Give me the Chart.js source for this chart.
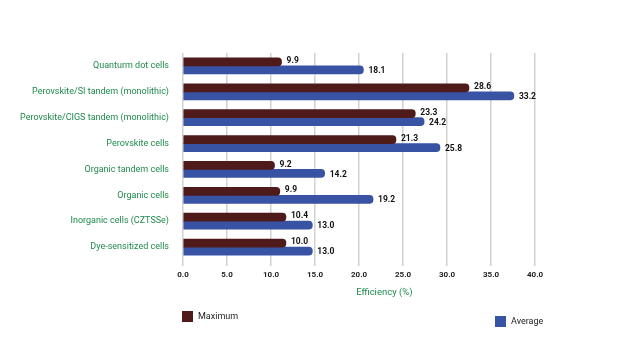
<!DOCTYPE html>
<html>
<head>
    <title>Solar Cell Efficiency</title>
    <script src="https://cdn.jsdelivr.net/npm/chart.js"></script>
    <style>
        html, body { margin: 0; padding: 0; background: #fff; }
    </style>
</head>
<body>
    <canvas id="effChart" width="640" height="361"></canvas>

    <script>
        // categories, top to bottom
        const categories = [
            "Quanturm dot cells",
            "Perovskite/SI tandem (monolithic)",
            "Perovskite/CIGS tandem (monolithic)",
            "Perovskite cells",
            "Organic tandem cells",
            "Organic cells",
            "Inorganic cells (CZTSSe)",
            "Dye-sensitized cells"
        ];

        // bar lengths as read against the x axis of the picture
        const maximumBars = [11.2, 32.5, 26.4, 24.2, 10.4, 11.0, 11.7, 11.7];
        const averageBars = [20.5, 37.6, 27.4, 29.2, 16.1, 21.6, 14.7, 14.7];

        // value labels printed next to the bars
        const maximumLabels = ["9.9", "28.6", "23.3", "21.3", "9.2", "9.9", "10.4", "10.0"];
        const averageLabels = ["18.1", "33.2", "24.2", "25.8", "14.2", "19.2", "13.0", "13.0"];

        const seriesNames = ["Maximum", "Average"];
        const green = "#1e8a4a";

        // value labels at the end of each bar
        const valueLabels = {
            id: "valueLabels",
            afterDatasetsDraw(chart) {
                const ctx = chart.ctx;
                const texts = [maximumLabels, averageLabels];
                ctx.save();
                ctx.font = "bold 8.5px Roboto";
                ctx.fillStyle = "#111";
                ctx.textBaseline = "middle";
                chart.data.datasets.forEach((ds, i) => {
                    chart.getDatasetMeta(i).data.forEach((bar, j) => {
                        ctx.fillText(texts[i][j], bar.x + 5, bar.y + (i === 0 ? -1 : 1));
                    });
                });
                ctx.restore();
            }
        };

        // axis title and the two legend keys under the plot
        const bottomText = {
            id: "bottomText",
            afterDraw(chart) {
                const ctx = chart.ctx;
                const a = chart.chartArea;
                ctx.save();
                ctx.font = "9.5px Roboto";
                ctx.fillStyle = green;
                ctx.textAlign = "center";
                ctx.textBaseline = "middle";
                ctx.fillText("Efficiency (%)", a.left + (a.right - a.left) * 0.572, a.bottom + 33);

                const keys = [
                    { x: a.left - 1, y: a.bottom + 51 },
                    { x: a.left + 312, y: a.bottom + 56 }
                ];
                ctx.textAlign = "left";
                ctx.font = "9px Roboto";
                chart.data.datasets.forEach((ds, i) => {
                    ctx.fillStyle = ds.backgroundColor;
                    ctx.fillRect(keys[i].x, keys[i].y, 11, 11);
                    ctx.fillStyle = "#222";
                    ctx.fillText(ds.label, keys[i].x + 16, keys[i].y + 6);
                });
                ctx.restore();
            }
        };

        const ctx = document.getElementById("effChart").getContext("2d");
        new Chart(ctx, {
            type: "bar",
            data: {
                labels: categories,
                datasets: [
                    {
                        label: seriesNames[0],
                        data: maximumBars,
                        backgroundColor: "#4f1a1a"
                    },
                    {
                        label: seriesNames[1],
                        data: averageBars,
                        backgroundColor: "#3953a4"
                    }
                ]
            },
            options: {
                indexAxis: "y",
                responsive: false,
                animation: false,
                layout: { padding: { top: 53, right: 105, bottom: 58, left: 0 } },
                datasets: {
                    bar: {
                        barThickness: 8,
                        borderRadius: 4,
                        borderSkipped: "start"
                    }
                },
                plugins: {
                    legend: { display: false },
                    tooltip: { enabled: false }
                },
                scales: {
                    x: {
                        min: 0,
                        max: 40,
                        afterFit: s => { s.height = 43; },
                        grid: { color: "#d2d2d2", lineWidth: 1.5, tickLength: 6 },
                        border: { display: false },
                        ticks: {
                            stepSize: 5,
                            padding: 4,
                            color: "#222",
                            font: { family: "Roboto", size: 8, weight: "bold" },
                            callback: v => v.toFixed(1)
                        }
                    },
                    y: {
                        afterFit: s => { s.width = 183; },
                        grid: { display: false, drawTicks: false },
                        border: { display: false },
                        ticks: {
                            padding: 14,
                            color: green,
                            font: { family: "Roboto", size: 9 }
                        }
                    }
                }
            },
            plugins: [valueLabels, bottomText]
        });
    </script>
</body>
</html>
